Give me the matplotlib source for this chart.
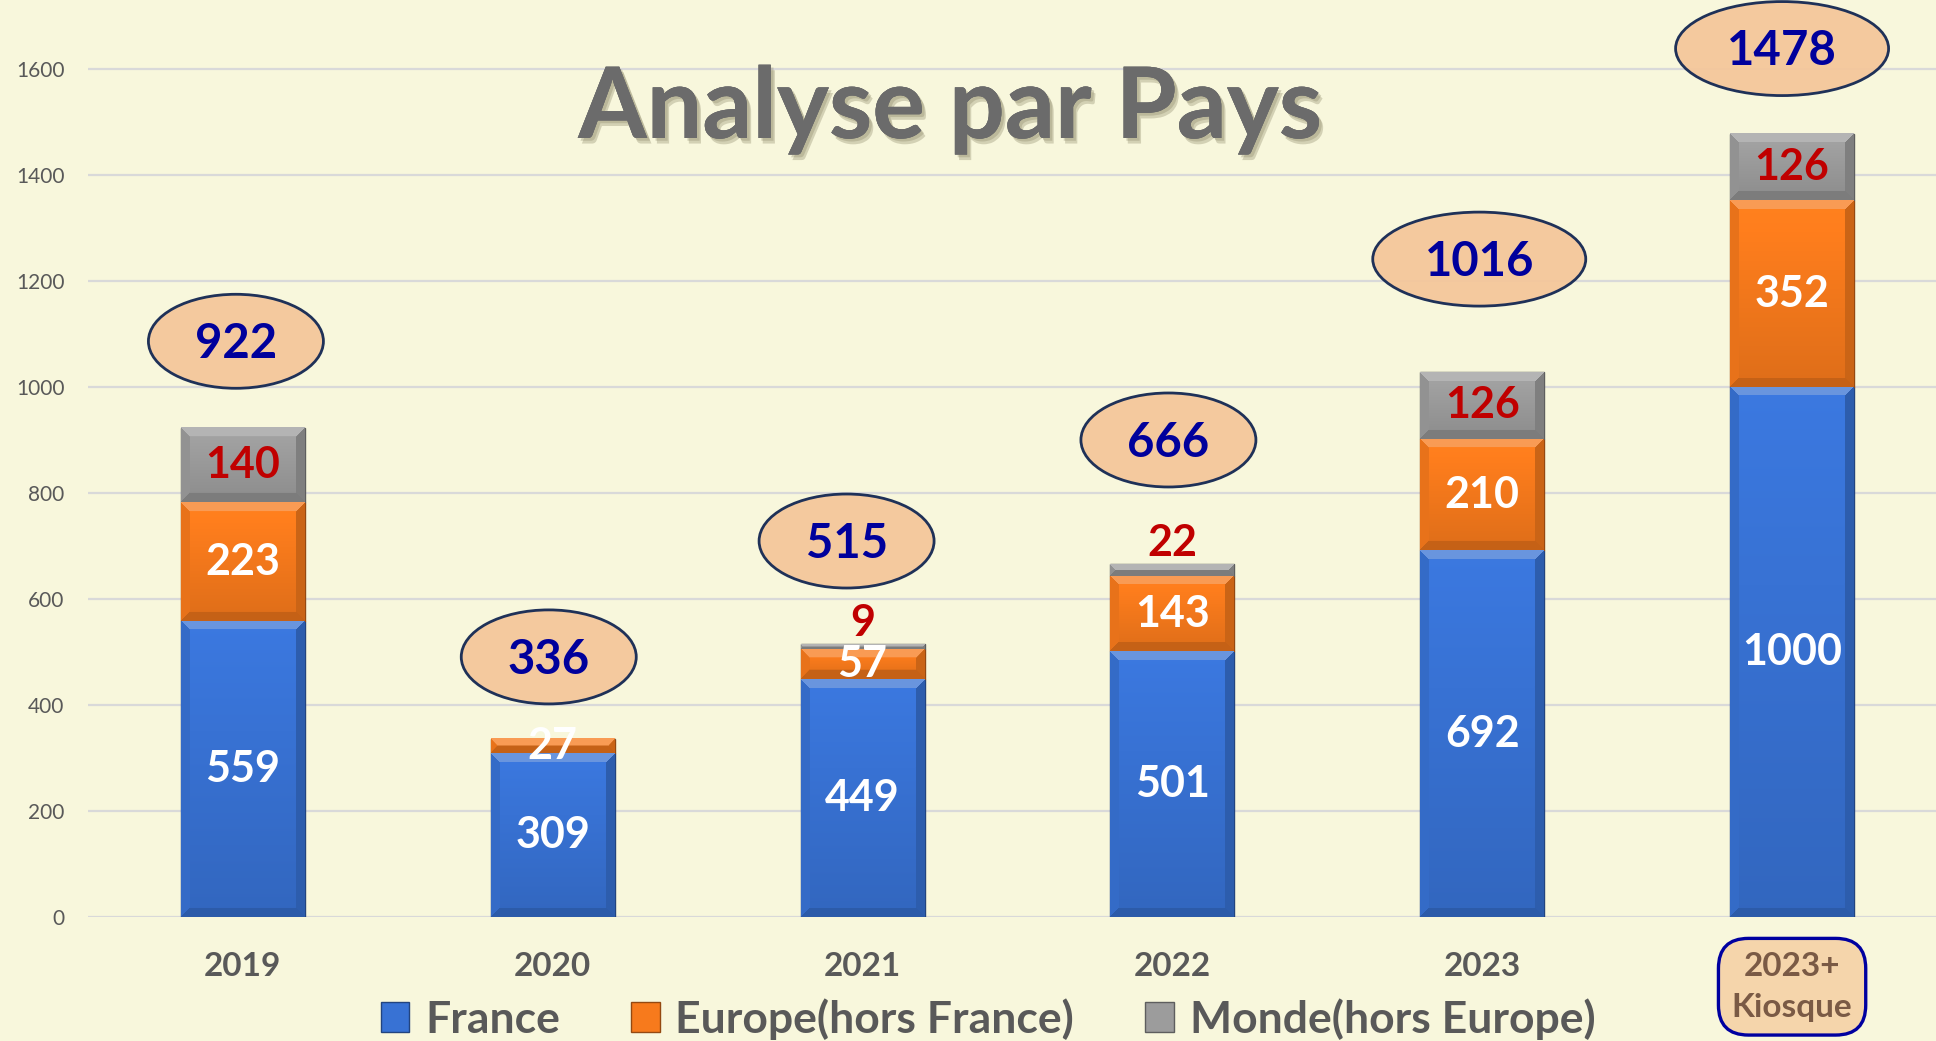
import numpy as np
import matplotlib
matplotlib.use("Agg")
import matplotlib.pyplot as plt
from matplotlib.patches import Ellipse, Patch
from matplotlib.transforms import ScaledTranslation
import matplotlib.patheffects as pe

# ---- data ----
years = ['2019', '2020', '2021', '2022', '2023', '2023+\nKiosque']
france = [559, 309, 449, 501, 692, 1000]
europe = [223, 27, 57, 143, 210, 352]
monde = [140, 0, 9, 22, 126, 126]
totals = [922, 336, 515, 666, 1016, 1478]
series_names = ['France', 'Europe(hors France)', 'Monde(hors Europe)']
yticks = [0, 200, 400, 600, 800, 1000, 1200, 1400, 1600]

# ---- layout of the total bubbles (pixels, relative to each bar top) ----
bubble_lift_px = [87, 82, 103, 124, 113, 85]
bubble_shift_px = [-7, -4, -16, -4, -3, -10]

BG = '#f8f7dc'
GRID = '#d9d9d9'
TXT = '#595959'
BLUE = '#3872d4'
ORANGE = '#f77a1c'
GREY = '#9c9c9c'
FONT = 'Lato'

plt.rcParams['font.family'] = [FONT, 'DejaVu Sans']

W, H, DPI = 1936, 1041, 100
fig = plt.figure(figsize=(W / DPI, H / DPI), dpi=DPI, facecolor=BG)
ax = fig.add_axes([88 / W, 1 - 917 / H, (1947 - 88) / W, 917 / H])
ax.set_facecolor(BG)
XLIM = (-0.5, 5.5)
YLIM = (0, 1730)
ax.set_xlim(*XLIM)
ax.set_ylim(*YLIM)
for s in ax.spines.values():
    s.set_visible(False)
ax.set_axisbelow(True)
ax.yaxis.grid(True, color=GRID, linewidth=1.6)
ax.set_yticks(yticks)
ax.set_yticklabels([str(v) for v in yticks], fontsize=15, color=TXT)
ax.tick_params(axis='y', length=0, pad=17)

x = np.arange(len(years))
bw = 0.4
px_x = ax.bbox.width / (XLIM[1] - XLIM[0])
px_y = ax.bbox.height / (YLIM[1] - YLIM[0])


def shade(rgb, f):
    rgb = np.asarray(rgb)
    if f >= 1:
        return rgb + (1 - rgb) * (f - 1)
    return rgb * f


def bevel(patch, color):
    """Paint a bevelled gradient on top of a bar segment."""
    x0, y0 = patch.get_x(), patch.get_y()
    w, h = patch.get_width(), patch.get_height()
    if h <= 0:
        return
    nx = max(int(round(w * px_x)), 2)
    ny = max(int(round(h * px_y)), 2)
    base = np.array(matplotlib.colors.to_rgb(color))
    ii, jj = np.mgrid[0:ny, 0:nx]
    dt = ii + 0.5
    db = ny - ii - 0.5
    dl = jj + 0.5
    dr = nx - jj - 0.5
    b = min(9.0, ny / 2.0)
    grad = 1.06 - 0.16 * (ii / max(ny - 1, 1))
    img = base[None, None, :] * grad[..., None]
    img = np.clip(img, 0, 1)
    dmin = np.minimum(np.minimum(dt, db), np.minimum(dl, dr))
    zone = dmin < b
    top = zone & (dt == dmin)
    bot = zone & (db == dmin) & ~top
    left = zone & (dl == dmin) & ~top & ~bot
    right = zone & (dr == dmin) & ~top & ~bot & ~left
    img[top] = shade(base, 1.25)
    img[bot] = shade(base, 0.80)
    img[left] = shade(base, 0.94)
    img[right] = shade(base, 0.82)
    ax.imshow(img, extent=(x0, x0 + w, y0, y0 + h), origin='upper',
              aspect='auto', interpolation='bilinear', zorder=2.6)


bottoms = np.zeros(len(years))
for vals, col in zip([france, europe, monde], [BLUE, ORANGE, GREY]):
    bars = ax.bar(x, vals, bw, bottom=bottoms, color=col,
                  edgecolor=shade(matplotlib.colors.to_rgb(col), 0.6),
                  linewidth=1.0, zorder=2.5)
    for p in bars:
        bevel(p, col)
    bottoms = bottoms + np.array(vals)
ax.set_xlim(*XLIM)
ax.set_ylim(*YLIM)

# ---- segment labels ----
lab_kw = dict(ha='center', va='center', fontsize=31, fontweight='bold', zorder=5)
for i in range(len(years)):
    ax.text(x[i], france[i] / 2, str(france[i]), color='white', **lab_kw)
    ax.text(x[i], france[i] + europe[i] / 2, str(europe[i]), color='white', **lab_kw)
    if monde[i] <= 0:
        continue
    top = france[i] + europe[i] + monde[i]
    if monde[i] < 40:
        ax.annotate(str(monde[i]), xy=(x[i], top), xytext=(0, 6),
                    textcoords='offset points', ha='center', va='baseline',
                    fontsize=31, fontweight='bold', color='#c00000', zorder=5)
    else:
        ax.text(x[i], top - monde[i] / 2, str(monde[i]), color='#c00000', **lab_kw)

# ---- total bubbles ----
for i, tot in enumerate(totals):
    top = france[i] + europe[i] + monde[i]
    w_px = 175 if len(str(tot)) < 4 else 213
    dx, dy = bubble_shift_px[i] / DPI, bubble_lift_px[i] / DPI
    tr = fig.dpi_scale_trans + ScaledTranslation(x[i], top, ax.transData)
    ax.add_patch(Ellipse((dx, dy), w_px / DPI, 94 / DPI, transform=tr,
                         facecolor=(0.957, 0.776, 0.604, 0.93),
                         edgecolor='#1f3158', linewidth=2.0, zorder=6,
                         clip_on=False))
    ax.annotate(str(tot), xy=(x[i], top),
                xytext=(bubble_shift_px[i] * 0.72, bubble_lift_px[i] * 0.72 - 2),
                textcoords='offset points', ha='center', va='center',
                fontsize=34, fontweight='bold', color='#00009c', zorder=7,
                annotation_clip=False)

# ---- category axis ----
ax.set_xticks(x)
ax.set_xticklabels(years, fontsize=24, fontweight='bold', color=TXT,
                   linespacing=1.5, va='top')
ax.tick_params(axis='x', length=0, pad=25)
last = ax.get_xticklabels()[-1]
last.set_color('#7a5a45')
last.set_bbox(dict(boxstyle='round,pad=0.4,rounding_size=0.9',
                   facecolor='#f5d5ab', edgecolor='#0000a0', linewidth=2.4))

# ---- title ----
fig.text(950 / W, 1 - 138 / H, 'Analyse par Pays', ha='center', va='baseline',
         fontsize=71, fontweight='bold', color='#6b6b6b', zorder=10,
         path_effects=[pe.withSimplePatchShadow(offset=(3, -4), shadow_rgbFace='#8f8a6c', alpha=0.35),
                       pe.withSimplePatchShadow(offset=(2, -2), shadow_rgbFace='#8f8a6c', alpha=0.35),
                       pe.Normal()])

# ---- legend ----
handles = [Patch(facecolor=c, edgecolor=shade(matplotlib.colors.to_rgb(c), 0.6), linewidth=1)
           for c in [BLUE, ORANGE, GREY]]
fig.legend(handles, series_names, loc='center', bbox_to_anchor=(988 / W, 1 - 1019 / H),
           ncol=3, frameon=False, prop=dict(family=FONT, weight='bold', size=32),
           labelcolor=TXT, handlelength=0.65, handleheight=0.65, handletextpad=0.35,
           columnspacing=1.6, borderpad=0, borderaxespad=0)

fig.savefig('out.png', dpi=DPI, facecolor=BG)
